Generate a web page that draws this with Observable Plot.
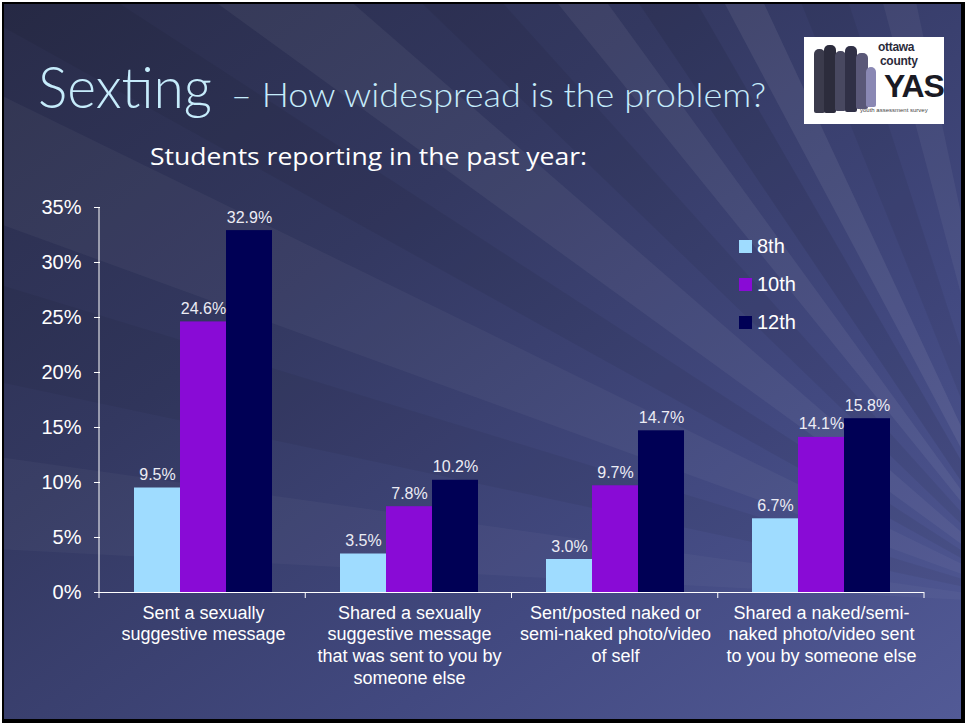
<!DOCTYPE html>
<html>
<head>
<meta charset="utf-8">
<script src="https://cdn.jsdelivr.net/npm/d3@7"></script>
<script src="https://cdn.jsdelivr.net/npm/@observablehq/plot@0.6"></script>
<style>
  html, body { margin: 0; padding: 0; background: #fff; }
  #page { position: relative; width: 965px; height: 723px; overflow: hidden; }
  #frame { position: absolute; left: 2px; top: 2px; width: 963px; height: 721px; background: #000; }
  #slide { position: absolute; left: 4px; top: 4px; width: 957px; height: 715px; overflow: hidden; }
  #bg { position: absolute; left: 0; top: 0; }
  #chart { position: absolute; left: 0; top: 0; }
  #titles { position: absolute; left: 0; top: 0; }
  #legend { position: absolute; left: 739px; top: 227px; font-family: "Liberation Sans", Arial, sans-serif; font-size: 20px; color: #fff; }
  #legend .item { display: flex; align-items: center; height: 38px; }
  #legend .sw { width: 13px; height: 13px; margin-right: 5px; }
  #logo { position: absolute; left: 804px; top: 37px; width: 140px; height: 87px; background: #fff; overflow: hidden; font-family: "Liberation Sans", Arial, sans-serif; }
  #logo .p { position: absolute; border-radius: 5px 5px 2px 2px; }
  #logo .t1 { position: absolute; left: 74px; top: 3px; font-size: 12px; font-weight: bold; color: #2a2a3a; letter-spacing: -0.3px; }
  #logo .t2 { position: absolute; left: 76px; top: 17px; font-size: 12px; font-weight: bold; color: #2a2a3a; letter-spacing: -0.3px; }
  #logo .t3 { position: absolute; left: 80px; top: 32px; font-size: 32px; font-weight: bold; color: #1a1a24; letter-spacing: -1px; line-height: 34px; }
  #logo .t4 { position: absolute; left: 56px; top: 70px; font-size: 6px; color: #444; white-space: nowrap; }
</style>
</head>
<body>
<div id="page">
  <div id="frame"></div>
  <div id="slide"><svg id="bg" width="957" height="715"></svg></div>
  <div id="chart"></div>
  <svg id="titles" width="965" height="200"></svg>
  <div id="legend"></div>
  <div id="logo">
    <div class="p" style="left:10px;top:12px;width:11px;height:64px;background:#3b3b4c"></div>
    <div class="p" style="left:20px;top:8px;width:12px;height:68px;background:#2c2c3c"></div>
    <div class="p" style="left:31px;top:14px;width:11px;height:60px;background:#484860"></div>
    <div class="p" style="left:41px;top:9px;width:12px;height:66px;background:#303046"></div>
    <div class="p" style="left:52px;top:16px;width:12px;height:56px;background:#5a5878"></div>
    <div class="p" style="left:62px;top:30px;width:10px;height:40px;background:#8a88b4"></div>
    <div class="t1">ottawa</div>
    <div class="t2">county</div>
    <div class="t3">YAS</div>
    <div class="t4">youth assessment survey</div>
  </div>
</div>
<script>
// ---------- data ----------
const categories = [
  "Sent a sexually\nsuggestive message",
  "Shared a sexually\nsuggestive message\nthat was sent to you by\nsomeone else",
  "Sent/posted naked or\nsemi-naked photo/video\nof self",
  "Shared a naked/semi-\nnaked photo/video sent\nto you by someone else"
];
const grades = ["8th", "10th", "12th"];
const grade8 = [9.5, 3.5, 3.0, 6.7];
const grade10 = [24.6, 7.8, 9.7, 14.1];
const grade12 = [32.9, 10.2, 14.7, 15.8];
const gradeColors = ["#9fdcff", "#890bd6", "#000055"];
const yTicks = [0, 5, 10, 15, 20, 25, 30, 35];

const series = [grade8, grade10, grade12];
const rows = categories.flatMap((c, i) => grades.map((g, j) => ({category: c, grade: g, value: series[j][i]})));

// ---------- background (decorative) ----------
(function drawBg() {
  const bg = d3.select("#bg");
  const defs = bg.append("defs");
  const lg = defs.append("linearGradient").attr("id", "bgGrad")
    .attr("x1", "0").attr("y1", "0").attr("x2", "1").attr("y2", "1");
  [["0", "#292c49"], ["0.35", "#333860"], ["0.7", "#424980"], ["1", "#525a96"]]
    .forEach(([o, c]) => lg.append("stop").attr("offset", o).attr("stop-color", c));
  bg.append("rect").attr("width", 957).attr("height", 715).attr("fill", "url(#bgGrad)");
  const F = [1040, 600];
  const R = 2200;
  const wedges = [
    [183, 188, "#fff", 0.03], [192, 197, "#000", 0.05], [200, 206, "#fff", 0.04],
    [209, 213, "#000", 0.06], [216, 221, "#fff", 0.05], [224, 228, "#000", 0.06],
    [231, 234, "#fff", 0.06], [236, 240, "#000", 0.08], [242, 245, "#fff", 0.07],
    [248, 252, "#000", 0.06], [255, 258, "#fff", 0.05]
  ];
  const pt = a => [F[0] + R * Math.cos(a * Math.PI / 180), F[1] + R * Math.sin(a * Math.PI / 180)];
  wedges.forEach(([a1, a2, c, o]) => {
    const p1 = pt(a1), p2 = pt(a2);
    bg.append("polygon")
      .attr("points", [F, p1, p2].map(p => p.join(",")).join(" "))
      .attr("fill", c).attr("fill-opacity", o);
  });
})();

// ---------- titles ----------
(function drawTitles() {
  const t = d3.select("#titles");
  const font = "Lato, 'Open Sans', sans-serif";
  t.append("text").attr("x", 38).attr("y", 108).attr("font-family", font).attr("font-weight", 300)
    .attr("font-size", 58).attr("fill", "#c6ecfb")
    .attr("textLength", 174).attr("lengthAdjust", "spacingAndGlyphs").text("Sexting");
  t.append("text").attr("x", 231).attr("y", 107).attr("font-family", font).attr("font-weight", 300)
    .attr("font-size", 33).attr("fill", "#c6ecfb")
    .attr("textLength", 535).attr("lengthAdjust", "spacingAndGlyphs").text("– How widespread is the problem?");
  t.append("text").attr("x", 150).attr("y", 165).attr("font-family", "'Open Sans', Lato, sans-serif")
    .attr("font-size", 23).attr("fill", "#ffffff")
    .attr("textLength", 437).attr("lengthAdjust", "spacingAndGlyphs").text("Students reporting in the past year:");
})();

// ---------- legend ----------
(function drawLegend() {
  const lg = d3.select("#legend");
  grades.forEach((g, j) => {
    const it = lg.append("div").attr("class", "item");
    it.append("div").attr("class", "sw").style("background", gradeColors[j]);
    it.append("span").text(g);
  });
})();

// ---------- chart ----------
const plot = Plot.plot({
  width: 965,
  height: 723,
  marginLeft: 99,
  marginRight: 41,
  marginTop: 207,
  marginBottom: 131,
  style: {background: "transparent", color: "#ffffff", fontFamily: "'Liberation Sans', Arial, sans-serif"},
  fx: {domain: categories, padding: 0, label: null, axis: null},
  x: {domain: grades, paddingInner: 0, paddingOuter: 0.739, axis: null},
  y: {domain: [0, 35], label: null, axis: null},
  color: {domain: grades, range: gradeColors},
  marks: [
    Plot.axisY({ticks: yTicks, tickFormat: d => d + "%", tickSize: 6, tickPadding: 13, fontSize: 20, label: null}),
    Plot.axisFx({anchor: "bottom", tickSize: 0, tickPadding: 11, fontSize: 18, lineHeight: 1.2, label: null}),
    Plot.barY(rows, {fx: "category", x: "grade", y: "value", fill: "grade"}),
    Plot.ruleY([0], {stroke: "#ffffff"}),
    Plot.text(rows, {fx: "category", x: "grade", y: "value", text: d => d.value.toFixed(1) + "%",
      lineAnchor: "bottom", dy: -8, fontSize: 16, fill: "#ececf4"})
  ]
});

// y axis line and category boundary ticks on the x axis
(function axisLines() {
  const fxs = plot.scale("fx");
  const ys = plot.scale("y");
  const y0 = ys.apply ? ys.apply(0) : ys.range[0];
  const yTop = ys.apply ? ys.apply(d3.max(yTicks)) : ys.range[1];
  const [r0, r1] = fxs.range;
  const step = (r1 - r0) / categories.length;
  const g = d3.select(plot).append("g").attr("stroke", "#ffffff").attr("stroke-width", 1);
  g.append("line").attr("x1", r0).attr("x2", r0).attr("y1", yTop).attr("y2", y0);
  d3.range(categories.length + 1).forEach(i => {
    g.append("line").attr("x1", r0 + i * step).attr("x2", r0 + i * step)
      .attr("y1", y0).attr("y2", y0 + 6);
  });
})();

document.getElementById("chart").appendChild(plot);
</script>
</body>
</html>
